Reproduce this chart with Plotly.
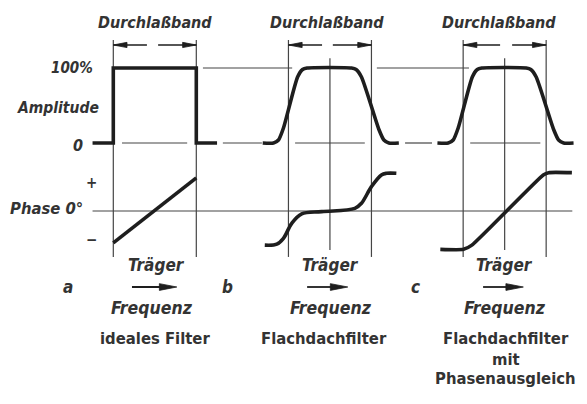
import plotly.graph_objects as go

# Normalised frequency: each filter's pass band runs from -1 to +1 around its carrier.
PANEL_OFFSET = {"a": 0.0, "b": 4.22, "c": 8.43}

# Amplitude responses (0 = no transmission, 1 = 100 %)
ideal_amp_f = [-1.5, -1.0, -1.0, 1.0, 1.0, 1.5]
ideal_amp = [0, 0, 1, 1, 0, 0]
flat_amp_f = [-1.62, -1.36, -1.24, -1.12, -0.78, -0.66, -0.55, 0.52, 0.63, 0.76, 1.18, 1.30, 1.42, 1.66]
flat_amp = [0, 0, 0.04, 0.20, 0.88, 0.98, 1, 1, 0.98, 0.88, 0.18, 0.04, 0, 0]

# Phase responses (0 = phase 0°)
ideal_phase_f = [-1.0, 1.0]
ideal_phase = [-0.98, 1.02]
flat_phase_f = [-1.57, -1.28, -1.12, -0.92, -0.68, -0.20, 0.60, 0.76, 1.00, 1.24, 1.36, 1.60]
flat_phase = [-1.05, -1.02, -0.84, -0.38, -0.09, -0.02, 0.08, 0.24, 0.75, 1.11, 1.16, 1.16]
comp_phase_f = [-1.55, -0.99, -0.79, 0.93, 1.06, 1.62]
comp_phase = [-1.18, -1.18, -1.05, 1.11, 1.18, 1.18]

# Thin reference lines: (panel, f_start, f_end)
level_100_segments = [("a", 1.16, 3.31), ("b", 1.13, 3.35)]
level_0_segments = [("a", -0.79, 0.78), ("a", 1.64, 2.58), ("b", -0.84, 0.84),
                    ("b", 1.81, 2.46), ("c", -0.83, 0.86)]
phase_zero_span = (("a", -1.5), ("c", 1.63))

# Dimension line gaps under "Durchlaßband" and carrier arrows
band_gap = {"a": (-0.19, 0.08), "b": (-0.19, 0.07), "c": (-0.11, 0.18)}
carrier_arrow = {"a": (-0.55, 0.53), "b": (-0.55, 0.43), "c": (-0.52, 0.45)}

captions = {"a": ["ideales Filter"], "b": ["Flachdachfilter"],
            "c": ["Flachdachfilter", "mit", "Phasenausgleich"]}

INK = "#1e1e1e"
THIN = "#454545"
TEXT = "#333333"
FONT = "Liberation Sans Narrow, DejaVu Sans Condensed, Roboto, sans-serif"


def gx(panel, f):
    off = PANEL_OFFSET[panel]
    if isinstance(f, (list, tuple)):
        return [off + v for v in f]
    return off + f


fig = go.Figure()


def thin(x, y, yaxis="y"):
    fig.add_trace(go.Scatter(x=x, y=y, mode="lines", yaxis=yaxis, hoverinfo="skip",
                             line=dict(color=THIN, width=1.2), showlegend=False))


def thick(x, y, yaxis="y", smooth=None):
    line = dict(color=INK, width=3.6)
    if smooth:
        line.update(shape="spline", smoothing=smooth)
    fig.add_trace(go.Scatter(x=x, y=y, mode="lines", yaxis=yaxis, hoverinfo="skip",
                             line=line, showlegend=False))


def arrow_head(x_tip, y, direction, length, half, yaxis="y"):
    xb = x_tip - direction * length
    fig.add_trace(go.Scatter(x=[x_tip, xb, xb, x_tip], y=[y, y + half, y - half, y],
                             mode="lines", fill="toself", fillcolor=INK, yaxis=yaxis,
                             line=dict(color=INK, width=0.8), hoverinfo="skip",
                             showlegend=False))


# reference levels
for p, f0, f1 in level_100_segments:
    thin(gx(p, [f0, f1]), [1, 1])
for p, f0, f1 in level_0_segments:
    thin(gx(p, [f0, f1]), [0, 0])
(p0, f0), (p1, f1) = phase_zero_span
thin([gx(p0, f0), gx(p1, f1)], [0, 0], yaxis="y2")

# band edges and carrier lines
shapes = []
for p in PANEL_OFFSET:
    for f in (-1.0, 1.0):
        shapes.append(dict(type="line", xref="x", yref="paper", x0=gx(p, f), x1=gx(p, f),
                           y0=0.364, y1=0.901, line=dict(color=THIN, width=1.2), layer="below"))
    if p != "a":
        shapes.append(dict(type="line", xref="x", yref="paper", x0=gx(p, 0), x1=gx(p, 0),
                           y0=0.381, y1=0.856, line=dict(color=THIN, width=1.2), layer="below"))

# response curves
thick(gx("a", ideal_amp_f), ideal_amp)
thick(gx("b", flat_amp_f), flat_amp, smooth=0.6)
thick(gx("c", flat_amp_f), flat_amp, smooth=0.6)
thick(gx("a", ideal_phase_f), ideal_phase, yaxis="y2")
thick(gx("b", flat_phase_f), flat_phase, yaxis="y2", smooth=1.0)
thick(gx("c", comp_phase_f), comp_phase, yaxis="y2", smooth=0.5)

# pass-band dimension lines
DIM_Y = 1.307
for p, (g0, g1) in band_gap.items():
    for tip, tail, d in ((-1.0, g0, -1), (1.0, g1, 1)):
        fig.add_trace(go.Scatter(x=[gx(p, tail), gx(p, tip)], y=[DIM_Y, DIM_Y], mode="lines",
                                 line=dict(color=INK, width=1.6), hoverinfo="skip",
                                 showlegend=False))
        arrow_head(gx(p, tip), DIM_Y, d, 0.33, 0.035)

# carrier direction arrows
ARR_Y = -1.92
for p, (t0, t1) in carrier_arrow.items():
    fig.add_trace(go.Scatter(x=[gx(p, t0), gx(p, t1) - 0.3], y=[ARR_Y, ARR_Y], mode="lines",
                             line=dict(color=INK, width=1.8), hoverinfo="skip",
                             showlegend=False))
    arrow_head(gx(p, t1), ARR_Y, 1, 0.42, 0.045)

ann = []


def label(text, x, y, size=15, italic=True, xanchor="center", bold=True):
    ann.append(dict(text=text, x=x, y=y, xref="x", yref="paper", xanchor=xanchor,
                    yanchor="middle", showarrow=False,
                    font=dict(family=FONT, size=size, color=TEXT,
                              style="italic" if italic else "normal",
                              weight="bold" if bold else "normal")))


band_text_x = {"a": 0.0, "b": -0.06, "c": -0.13}
carrier_text_x = {"a": 0.05, "b": 0.02, "c": 0.0}
freq_text_x = {"a": -0.07, "b": 0.02, "c": 0.0}
caption_x = {"a": 0.0, "b": -0.15, "c": 0.03}
letter_x = {"a": -2.09, "b": -2.46, "c": -2.14}

for p in PANEL_OFFSET:
    label("Durchlaßband", gx(p, band_text_x[p]), 0.9455, size=16)
    label("Träger", gx(p, carrier_text_x[p]), 0.344, size=17)
    label("Frequenz", gx(p, freq_text_x[p]), 0.238, size=17.5)
    label(p, gx(p, letter_x[p]), 0.2896, size=17)
    for i, line in enumerate(captions[p]):
        label(line, gx(p, caption_x[p]), [0.161, 0.111, 0.062][i], size=16.5, italic=False)

label("100%", gx("a", -1.44), 0.8317, xanchor="right")
label("Amplitude", gx("a", -1.30), 0.7327, size=15.5, xanchor="right")
label("0", gx("a", -1.85), 0.641, size=16)
label("+", gx("a", -1.52), 0.548, italic=False)
label("Phase 0°", gx("a", -1.68), 0.4827, size=16.5, xanchor="right")
label("−", gx("a", -1.52), 0.406, italic=False)

fig.update_layout(
    width=587, height=404, margin=dict(l=0, r=0, t=0, b=0),
    paper_bgcolor="white", plot_bgcolor="white",
    xaxis=dict(range=[-3.730, 10.414], visible=False, fixedrange=True),
    yaxis=dict(range=[-3.48, 1.9067], visible=False, fixedrange=True),
    yaxis2=dict(range=[-5.938, 6.492], visible=False, overlaying="y", fixedrange=True),
    shapes=shapes, annotations=ann, showlegend=False,
)

fig.write_html("out.html")
